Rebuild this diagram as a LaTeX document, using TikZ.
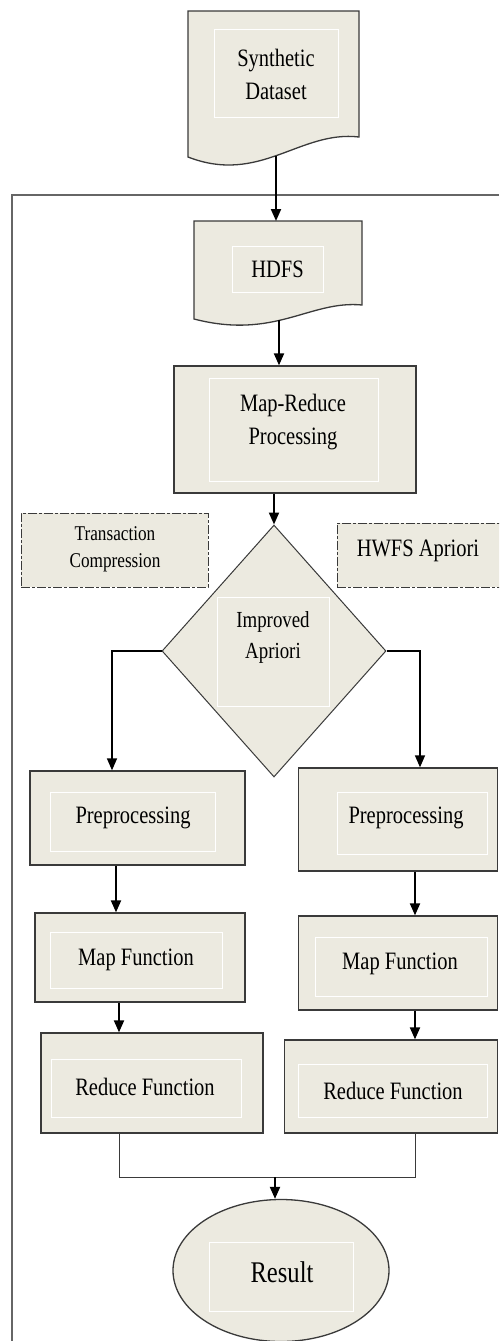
\documentclass[tikz,border=0pt]{standalone}
\usepackage{fontspec}
\setmainfont[FakeStretch=0.82]{Liberation Serif}
\usetikzlibrary{arrows.meta,shapes.geometric}
\definecolor{boxfill}{HTML}{ECEAE0}
\definecolor{edge}{HTML}{3A3A3A}

\begin{document}
\begin{tikzpicture}[x=1pt,y=-1pt,
	box/.style={draw=edge,fill=boxfill,line width=1.3pt,inner sep=0pt},
	inbox/.style={draw=white,line width=0.9pt,inner sep=0pt},
	lbl/.style={inner sep=0pt,align=center,font=\fontsize{25}{33}\selectfont},
	dashbox/.style={draw=edge,fill=boxfill,line width=1pt,dash pattern=on 9pt off 2pt on 3pt off 2pt},
	arr/.style={line width=2pt,-{Triangle[width=10pt,length=12pt]}},
	link/.style={line width=1pt,draw=edge}]
	\useasboundingbox (0,0) rectangle (499,1341);
	\clip (0,0) rectangle (499,1341);
	% frame
	\draw[line width=1.5pt,draw=gray!80!black] (499,195) -- (12,195) -- (12,1341);
	% documents
	\draw[box] (188,11) -- (359,11) -- (359,137) .. controls (300,130) and (260,185) .. (188,157) -- cycle;
	\node[inbox,minimum width=124pt,minimum height=88pt] (syn-in) at (276,73) {};
	\node[lbl] (syn) at (276,74) {Synthetic\\Dataset};
	\coordinate (syn-b) at (276,156);
	\draw[box] (194,221) -- (362,221) -- (362,305) .. controls (310,300) and (275,340) .. (194,319) -- cycle;
	\node[inbox,minimum width=91pt,minimum height=46pt] (hdfs-in) at (277.5,269) {};
	\node[lbl] (hdfs) at (277.5,269) {HDFS};
	\coordinate (hdfs-t) at (276,221);
	\coordinate (hdfs-b) at (279,320);
	% map-reduce
	\node[box,minimum width=242pt,minimum height=127pt] (mr) at (295,429.5) {};
	\node[inbox,minimum width=169pt,minimum height=103pt] (mr-in) at (293.5,429.5) {};
	\node[lbl] (mr-txt) at (293,422.5) {Map-Reduce\\Processing};
	% side notes
	\node[dashbox,minimum width=187pt,minimum height=74pt] (tc) at (114.5,550) {};
	\node[lbl,font=\fontsize{21}{27}\selectfont] (tc-txt) at (115,549.5) {Transaction\\Compression};
	\node[dashbox,minimum width=183pt,minimum height=64pt] (hw) at (428.5,555) {};
	\node[lbl] (hw-txt) at (418,551) {HWFS Apriori};
	% decision
	\node[box,diamond,line width=1pt,minimum width=224pt,minimum height=252pt] (dia) at (274,651) {};
	\node[inbox,minimum width=112pt,minimum height=109pt] (dia-in) at (273,651.5) {};
	\node[lbl,font=\fontsize{23}{31}\selectfont] (dia-txt) at (273,637.5) {Improved\\Apriori};
	% left branch
	\node[box,minimum width=215pt,minimum height=94pt] (preL) at (137.5,818) {};
	\node[inbox,minimum width=165pt,minimum height=59pt] (preL-in) at (132.5,821.5) {};
	\node[lbl] (preL-txt) at (133,818) {Preprocessing};
	\node[box,minimum width=210pt,minimum height=89pt] (mapL) at (140,957.5) {};
	\node[inbox,minimum width=172pt,minimum height=56pt] (mapL-in) at (136,960) {};
	\node[lbl] (mapL-txt) at (136,960) {Map Function};
	\node[box,minimum width=222pt,minimum height=100pt] (redL) at (152,1083) {};
	\node[inbox,minimum width=190pt,minimum height=58pt] (redL-in) at (146,1088) {};
	\node[lbl] (redL-txt) at (145,1087) {Reduce Function};
	% right branch
	\node[box,minimum width=199pt,minimum height=103pt] (preR) at (398,819.5) {};
	\node[inbox,minimum width=150pt,minimum height=62pt] (preR-in) at (412,823) {};
	\node[lbl] (preR-txt) at (406,818) {Preprocessing};
	\node[box,minimum width=199pt,minimum height=94pt] (mapR) at (398,963) {};
	\node[inbox,minimum width=172pt,minimum height=59pt] (mapR-in) at (401,966.5) {};
	\node[lbl] (mapR-txt) at (400,964) {Map Function};
	\node[box,minimum width=213pt,minimum height=93pt] (redR) at (391,1086.5) {};
	\node[inbox,minimum width=189pt,minimum height=53pt] (redR-in) at (392.5,1090.5) {};
	\node[lbl] (redR-txt) at (393,1091) {Reduce Function};
	% result
	\node[box,ellipse,minimum width=216pt,minimum height=142pt] (res) at (281,1270.5) {};
	\node[inbox,minimum width=144pt,minimum height=69pt] (res-in) at (281,1276.5) {};
	\node[lbl,font=\fontsize{30}{36}\selectfont] (res-txt) at (282,1272) {Result};
	\coordinate (merge) at (275,1177);
	% connectors
	\draw[arr] (syn-b) -- (hdfs-t);
	\draw[arr] (hdfs-b) -- (hdfs-b |- mr.north);
	\draw[arr] (dia.north |- mr.south) -- (dia.north);
	\draw[arr,line width=1.5pt] (dia.west) -| ([xshift=-25.5pt]preL.north);
	\draw[arr,line width=1.5pt] (dia.east) -| ([xshift=22pt]preR.north);
	\draw[arr] ([xshift=-21.5pt]preL.south) -- ([xshift=-21.5pt]preL.south |- mapL.north);
	\draw[arr] ([xshift=17pt]preR.south) -- ([xshift=17pt]preR.south |- mapR.north);
	\draw[arr] ([xshift=-21pt]mapL.south) -- ([xshift=-21pt]mapL.south |- redL.north);
	\draw[arr] ([xshift=17pt]mapR.south) -- ([xshift=17pt]mapR.south |- redR.north);
	\draw[link] ([xshift=-33pt]redL.south) |- (merge) -| ([xshift=24pt]redR.south);
	\draw[arr] (merge) -- (merge |- res.north);
\end{tikzpicture}
\end{document}
